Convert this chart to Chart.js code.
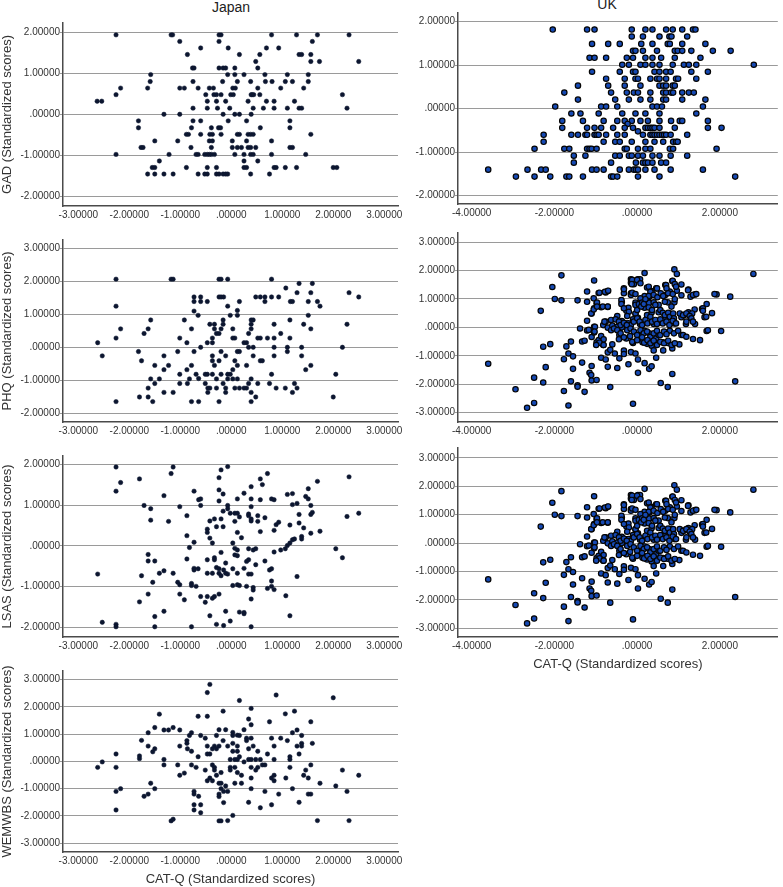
<!DOCTYPE html>
<html lang="en">
<head>
<meta charset="UTF-8" />
<title>CAT-Q scatter plots</title>
<script src="https://cdn.jsdelivr.net/npm/chart.js"></script>
<style>
    body {
        margin: 0;
        width: 783px;
        height: 887px;
        overflow: hidden;
        background: #ffffff;
        font-family: 'Liberation Sans', Arial, sans-serif;
        position: relative;
    }
    canvas { position: absolute; }
    .colTitle {
        position: absolute;
        font-size: 14px;
        color: #222;
        transform: translateX(-50%);
        white-space: nowrap;
    }
</style>
</head>
<body>

<div class="colTitle" style="left:231px; top:-1px;">Japan</div>
<div class="colTitle" style="left:607px; top:-4px;">UK</div>

<canvas id="jpGad" width="420" height="213" style="left:0; top:13px;"></canvas>
<canvas id="ukGad" width="383" height="221" style="left:400px; top:3px;"></canvas>
<canvas id="jpPhq" width="420" height="212" style="left:0; top:230px;"></canvas>
<canvas id="ukPhq" width="383" height="219" style="left:400px; top:223px;"></canvas>
<canvas id="jpLsas" width="420" height="211" style="left:0; top:446px;"></canvas>
<canvas id="ukLsas" width="383" height="234" style="left:400px; top:438px;"></canvas>
<canvas id="jpWemwbs" width="420" height="226" style="left:0; top:661px;"></canvas>

<script>
// [CAT-Q, outcome] pairs, standardized scores
const jpGad = [
    [-2.26,1.94],[-1.18,1.94],[-1.15,1.94],[-0.24,1.94],[-0.2,1.94],[0.79,1.94],[1.28,1.94],[1.69,1.94],[2.31,1.94],
    [-1.01,1.78],[-0.24,1.78],[1.59,1.78],
    [-0.6,1.62],[-0.06,1.62],[0.69,1.62],[0.93,1.62],
    [-0.86,1.46],[0.16,1.46],[0.56,1.46],[1.33,1.46],[1.38,1.46],[1.56,1.46],
    [0.48,1.29],[1.56,1.29],[1.73,1.29],[2.5,1.29],
    [-0.76,1.13],[-0.73,1.13],[-0.24,1.13],[-0.16,1.13],[-0.11,1.13],[0.07,1.13],[0.52,1.13],
    [-1.58,0.97],[-0.07,0.97],[0.07,0.97],[0.25,0.97],[0.66,0.97],[1.1,0.97],[1.51,0.97],
    [-1.59,0.8],[-0.75,0.8],[-0.17,0.8],[0.12,0.8],[0.38,0.8],[0.67,0.8],[0.8,0.8],[1.06,0.8],[1.2,0.8],[1.51,0.8],
    [-2.17,0.64],[-1.64,0.64],[-1.01,0.64],[-0.92,0.64],[-0.65,0.64],[-0.43,0.64],[-0.35,0.64],[0.03,0.64],[0.08,0.64],[0.52,0.64],[0.97,0.64],[1.42,0.64],
    [-2.26,0.48],[-0.5,0.48],[-0.34,0.48],[-0.29,0.48],[-0.2,0.48],[-0.01,0.48],[0.04,0.48],[0.39,0.48],[0.41,0.48],[0.44,0.48],[0.56,0.48],[2.18,0.48],
    [-2.63,0.32],[-2.54,0.32],[-0.47,0.32],[-0.29,0.32],[-0.11,0.32],[0.33,0.32],[0.69,0.32],[0.84,0.32],[1.24,0.32],
    [-0.75,0.15],[-0.47,0.15],[-0.27,0.15],[-0.03,0.15],[0.43,0.15],[0.63,0.15],[0.84,0.15],[1.1,0.15],[1.33,0.15],[1.38,0.15],[2.27,0.15],
    [-1.32,0],[-1.01,0],[-0.16,0],[0.07,0],[0.16,0],[0.39,0],
    [-1.82,-0.16],[-0.75,-0.16],[-0.6,-0.16],[-0.06,-0.16],[0.3,-0.16],[1.15,-0.16],
    [-1.82,-0.33],[-0.78,-0.33],[-0.39,-0.33],[-0.25,-0.33],[-0.21,-0.33],[0.57,-0.33],[1.15,-0.33],
    [-0.88,-0.49],[-0.84,-0.49],[-0.6,-0.49],[-0.42,-0.49],[-0.37,-0.49],[-0.2,-0.49],[0.12,-0.49],[0.16,-0.49],[0.33,-0.49],[0.38,-0.49],[0.43,-0.49],[1.56,-0.49],
    [-1.5,-0.65],[-1.05,-0.65],[-0.43,-0.65],[-0.37,-0.65],[0.02,-0.65],[0.3,-0.65],[0.79,-0.65],
    [-1.77,-0.81],[-1.73,-0.81],[-0.79,-0.81],[-0.39,-0.81],[0.02,-0.81],[0.12,-0.81],[0.2,-0.81],[0.33,-0.81],[0.38,-0.81],[0.48,-0.81],[1.15,-0.81],[1.2,-0.81],
    [-2.26,-0.98],[-1.22,-0.98],[-0.69,-0.98],[-0.65,-0.98],[-0.52,-0.98],[-0.47,-0.98],[-0.43,-0.98],[-0.39,-0.98],[-0.33,-0.98],[0.07,-0.98],[0.25,-0.98],[0.38,-0.98],[0.43,-0.98],[0.79,-0.98],[1.46,-0.98],
    [-1.41,-1.14],[0.25,-1.14],[0.52,-1.14],
    [-1.55,-1.3],[-1.5,-1.3],[-0.88,-1.3],[-0.47,-1.3],[-0.29,-1.3],[0.25,-1.3],[0.3,-1.3],[0.84,-1.3],[0.88,-1.3],[1.06,-1.3],[1.28,-1.3],[2.0,-1.3],[2.07,-1.3],
    [-1.64,-1.46],[-1.5,-1.46],[-1.32,-1.46],[-1.14,-1.46],[-0.65,-1.46],[-0.52,-1.46],[-0.47,-1.46],[-0.29,-1.46],[-0.24,-1.46],[-0.16,-1.46],[-0.11,-1.46],[-0.07,-1.46],[0.38,-1.46],[0.75,-1.46]
];

const ukGad = [
    [-2.04,1.82],[-1.21,1.82],[-1.03,1.82],[-0.13,1.82],[0.2,1.82],[0.37,1.82],[0.7,1.82],[0.86,1.82],[1.09,1.82],[1.35,1.82],[1.41,1.82],
    [-0.13,1.66],[0.14,1.66],[0.54,1.66],[0.78,1.66],[0.83,1.66],[1.21,1.66],
    [-1.09,1.49],[-0.7,1.49],[-0.42,1.49],[0.1,1.49],[0.37,1.49],[0.74,1.49],[0.79,1.49],[1.09,1.49],[1.65,1.49],
    [-0.1,1.33],[-0.04,1.33],[0.14,1.33],[0.48,1.33],[0.91,1.33],[0.98,1.33],[1.09,1.33],[1.31,1.33],[1.83,1.33],[2.26,1.33],
    [-1.15,1.17],[-1.03,1.17],[-0.75,1.17],[-0.25,1.17],[-0.1,1.17],[0.2,1.17],[0.37,1.17],[0.58,1.17],[0.91,1.17],[1.53,1.17],
    [-0.36,1.01],[-0.2,1.01],[0.08,1.01],[0.2,1.01],[0.37,1.01],[0.54,1.01],[0.86,1.01],[1.13,1.01],[1.25,1.01],[1.43,1.01],[2.82,1.01],
    [-1.09,0.85],[-0.42,0.85],[-0.1,0.85],[-0.04,0.85],[0.42,0.85],[0.54,0.85],[0.7,0.85],[0.81,0.85],[1.31,0.85],[1.71,0.85],
    [-0.75,0.69],[-0.3,0.69],[-0.04,0.69],[0.02,0.69],[0.32,0.69],[0.48,0.69],[0.54,0.69],[0.7,0.69],[0.94,0.69],[0.99,0.69],[1.43,0.69],
    [-1.43,0.53],[-0.7,0.53],[-0.3,0.53],[0.08,0.53],[0.54,0.53],[0.63,0.53],[0.7,0.53],[0.86,0.53],[0.91,0.53],
    [-1.76,0.37],[-0.63,0.37],[-0.25,0.37],[-0.08,0.37],[0.02,0.37],[0.32,0.37],[0.63,0.37],[0.7,0.37],[0.82,0.37],[0.87,0.37],[1.09,0.37],[1.25,0.37],[1.37,0.37],
    [-1.43,0.21],[-0.53,0.21],[-0.2,0.21],[0.08,0.21],[0.32,0.21],[0.63,0.21],[0.7,0.21],[1.09,0.21],[1.65,0.21],
    [-1.98,0.05],[-0.87,0.05],[-0.75,0.05],[-0.48,0.05],[0.37,0.05],[0.48,0.05],[0.6,0.05],[1.59,0.05],
    [-1.59,-0.11],[-1.37,-0.11],[-0.93,-0.11],[-0.36,-0.11],[-0.04,-0.11],[0.2,-0.11],[0.54,-0.11],[1.43,-0.11],
    [-1.81,-0.28],[-1.31,-0.28],[-0.81,-0.28],[-0.48,-0.28],[-0.3,-0.28],[-0.13,-0.28],[0.08,-0.28],[0.26,-0.28],[0.54,-0.28],[0.82,-0.28],[1.03,-0.28],[1.09,-0.28],[1.71,-0.28],[-0.23,-0.35],
    [-1.81,-0.44],[-1.21,-0.44],[-1.03,-0.44],[-0.87,-0.44],[-0.58,-0.44],[-0.3,-0.44],[-0.1,-0.44],[0.2,-0.44],[0.26,-0.44],[0.32,-0.44],[0.37,-0.44],[0.42,-0.44],[0.54,-0.44],[0.91,-0.44],[1.71,-0.44],[2.04,-0.44],[0.02,-0.52],
    [-2.26,-0.6],[-1.59,-0.6],[-1.43,-0.6],[-1.25,-0.6],[-1.21,-0.6],[-1.03,-0.6],[-0.98,-0.6],[-0.93,-0.6],[-0.75,-0.6],[-0.48,-0.6],[-0.3,-0.6],[0.14,-0.6],[0.32,-0.6],[0.37,-0.6],[0.42,-0.6],[0.48,-0.6],[0.54,-0.6],[0.6,-0.6],[0.65,-0.6],[0.7,-0.6],[0.81,-0.6],[1.21,-0.6],
    [-2.26,-0.76],[-0.81,-0.76],[-0.53,-0.76],[-0.42,-0.76],[-0.13,-0.76],[0.2,-0.76],[0.42,-0.76],[0.63,-0.76],[0.87,-0.76],[0.94,-0.76],[0.98,-0.76],
    [-2.48,-0.92],[-1.76,-0.92],[-1.64,-0.92],[-1.21,-0.92],[-1.15,-0.92],[-1.1,-0.92],[-0.98,-0.92],[-0.3,-0.92],[-0.25,-0.92],[0.02,-0.92],[0.2,-0.92],[0.32,-0.92],[0.79,-0.92],[0.87,-0.92],[1.92,-0.92],
    [-1.53,-1.08],[-1.25,-1.08],[-0.53,-1.08],[-0.42,-1.08],[-0.2,-1.08],[-0.13,-1.08],[0.02,-1.08],[0.14,-1.08],[0.37,-1.08],[0.54,-1.08],[0.81,-1.08],[1.21,-1.08],
    [-1.53,-1.24],[-0.63,-1.24],[-0.03,-1.24],[0.14,-1.24],[0.2,-1.24],[0.26,-1.24],[0.37,-1.24],[0.58,-1.24],[0.7,-1.24],
    [-3.6,-1.4],[-2.65,-1.4],[-2.32,-1.4],[-2.21,-1.4],[-1.09,-1.4],[-0.98,-1.4],[-0.81,-1.4],[-0.42,-1.4],[-0.2,-1.4],[-0.08,-1.4],[-0.03,-1.4],[0.02,-1.4],[0.2,-1.4],[0.42,-1.4],[0.81,-1.4],[1.59,-1.4],
    [-2.93,-1.56],[-2.48,-1.56],[-2.1,-1.56],[-1.71,-1.56],[-1.64,-1.56],[-1.31,-1.56],[-0.63,-1.56],[-0.58,-1.56],[-0.48,-1.56],[0.02,-1.56],[0.54,-1.56],[2.37,-1.56]
];

const jpPhq = [
    [-2.62,0.14],[-2.53,-0.26],[-2.26,2.07],[-2.26,1.25],[-2.26,0.28],[-2.26,-1.65],[-2.17,0.56],[-1.82,-0.13],[-1.8,-1.51],[-1.76,-0.41],
    [-1.71,0.42],[-1.63,0.56],[-1.63,-1.51],[-1.63,-1.24],[-1.58,0.83],[-1.58,-0.96],[-1.54,-1.65],[-1.5,-0.55],[-1.5,-1.1],[-1.41,-0.96],
    [-1.32,-0.26],[-1.32,-0.68],[-1.32,-1.37],[-1.23,-0.55],[-1.18,2.07],[-1.14,2.07],[-1.14,-1.37],[-1.05,-0.13],[-1.01,0.28],[-1.01,-0.82],
    [-1.01,-1.1],[-0.92,0.83],[-0.87,0.14],[-0.87,-0.68],[-0.86,-1.1],[-0.82,-0.96],[-0.78,0.56],[-0.78,-0.55],[-0.78,-1.65],[-0.73,1.1],
    [-0.73,1.53],[-0.73,1.39],[-0.73,-0.13],[-0.69,-0.82],[-0.65,0.97],[-0.64,-0.95],[-0.64,-1.65],[-0.6,1.53],[-0.6,1.39],[-0.6,0],
    [-0.51,-1.1],[-0.51,-0.82],[-0.47,1.39],[-0.47,0.14],[-0.47,-0.82],[-0.46,-1.24],[-0.46,-1.37],[-0.42,0.7],[-0.42,-1.24],[-0.37,0.14],
    [-0.37,0.28],[-0.37,-0.26],[-0.37,-0.41],[-0.37,-0.82],[-0.33,0.7],[-0.33,0.56],[-0.33,-0.55],[-0.29,0.42],[-0.29,-0.96],[-0.29,-1.24],
    [-0.24,2.07],[-0.2,2.07],[-0.24,1.53],[-0.2,1.53],[-0.15,1.53],[-0.24,-0.41],[-0.24,0.42],[-0.24,-1.65],[-0.2,0.56],[-0.2,-0.13],
    [-0.2,-0.82],[-0.16,0.83],[-0.16,0.7],[-0.16,-1.1],[-0.11,-0.26],[-0.11,-1.24],[-0.11,-1.37],[-0.07,2.07],[-0.07,1.25],[-0.07,-0.82],
    [-0.07,-0.96],[-0.02,0.97],[-0.02,-0.82],[0.03,0.56],[0.03,0.28],[0.03,-0.68],[0.03,-0.96],[0.07,0.28],[0.07,-0.41],[0.07,-1.24],
    [0.12,1.12],[0.12,0.97],[0.12,-0.13],[0.12,-0.55],[0.12,-0.96],[0.16,1.39],[0.16,-0.13],[0.16,-1.24],[0.25,0.14],[0.25,-1.24],
    [0.3,0.14],[0.3,-0.55],[0.3,-1.24],[0.34,0.42],[0.34,0],[0.34,-1.1],[0.39,0.83],[0.39,0.7],[0.39,0.56],[0.39,-0.96],
    [0.39,-1.37],[0.39,-1.65],[0.43,0.83],[0.43,0],[0.43,-0.26],[0.48,1.53],[0.48,-1.51],[0.52,0.28],[0.52,-1.1],[0.57,1.53],
    [0.57,0.28],[0.57,-0.41],[0.61,-0.41],[0.66,1.53],[0.66,1.39],[0.71,0.28],[0.75,-1.1],[0.79,2.07],[0.79,1.53],[0.79,-0.82],
    [0.84,0.7],[0.84,0.28],[0.84,0],[0.84,-0.26],[0.88,-1.24],[0.93,1.53],[0.97,0.42],[1.06,-1.24],[1.07,1.8],[1.1,0],
    [1.1,-0.13],[1.15,0.83],[1.15,0.28],[1.16,1.39],[1.2,1.39],[1.2,-1.37],[1.24,-1.1],[1.29,-1.24],[1.29,1.66],[1.33,1.94],
    [1.38,0],[1.38,-0.26],[1.42,0.7],[1.46,-0.68],[1.51,1.39],[1.51,0.97],[1.56,1.66],[1.56,0.56],[1.56,-0.55],[1.59,1.94],
    [1.69,1.39],[1.74,1.25],[2.0,-1.51],[2.05,-0.82],[2.18,0],[2.27,0.7],[2.31,1.66],[2.5,1.53]
];

const ukPhq = [
    [-3.6,-1.28],[-2.94,-2.18],[-2.66,-2.83],[-2.49,-2.66],[-2.49,-1.77],[-2.33,0.58],[-2.27,-0.68],[-2.27,-1.94],[-2.21,-1.4],[-2.1,-0.59],
    [-2.05,1.42],[-1.99,1.0],[-1.83,1.83],[-1.83,0.95],[-1.77,-1.12],[-1.77,-2.24],[-1.71,-0.67],[-1.66,-0.92],[-1.66,-2.75],[-1.6,-0.5],
    [-1.6,-1.9],[-1.55,-1.02],[-1.55,-1.46],[-1.44,0.95],[-1.44,-2.04],[-1.44,-2.09],[-1.38,-0.04],[-1.33,-0.5],[-1.33,-1.24],[-1.27,-0.47],
    [-1.27,-2.27],[-1.21,0.23],[-1.21,-0.11],[-1.21,1.26],[-1.21,0.9],[-1.17,-0.09],[-1.15,-1.6],[-1.11,-1.68],[-1.1,0.49],[-1.1,-0.34],
    [-1.1,-1.36],[-1.1,-1.87],[-1.04,1.65],[-1.04,0.67],[-1.04,0.02],[-1.04,-0.18],[-0.98,-0.53],[-0.98,-1.85],[-0.98,0.84],[-0.93,1.21],
    [-0.93,-0.45],[-0.87,0.71],[-0.87,-1.07],[-0.82,0.08],[-0.82,-0.62],[-0.76,1.23],[-0.76,0.2],[-0.76,-1.13],[-0.71,1.28],[-0.71,0.72],
    [-0.71,-0.01],[-0.71,-0.88],[-0.71,-1.39],[-0.65,-0.79],[-0.65,-2.1],[-0.6,0.06],[-0.6,-0.6],[-0.54,-0.92],[-0.48,0.4],[-0.48,0.02],
    [-0.48,-1.43],[-0.43,-0.11],[-0.43,-0.27],[-0.43,-1.09],[-0.37,0.89],[-0.37,0.22],[-0.37,0],[-0.32,1.37],[-0.32,1.2],[-0.32,-0.82],
    [-0.32,-0.94],[-0.26,0.58],[-0.26,0.13],[-0.26,-0.39],[-0.21,0.69],[-0.21,0.14],[-0.21,-1.3],[-0.15,1.69],[-0.15,1.57],[-0.15,1.2],
    [-0.15,1.14],[-0.15,-0.87],[-0.15,0.08],[-0.1,-2.69],[-0.1,-0.55],[-0.1,0.28],[-0.1,1.53],[-0.04,0.87],[-0.04,0.79],[-0.04,-0.92],
    [-0.04,0.48],[0.02,-1.6],[0.02,-1.13],[0.02,0.34],[0.02,1.69],[0.07,1.69],[0.07,0.75],[0.07,0.12],[0.07,-0.31],[0.13,0.83],
    [0.13,-0.52],[0.18,1.91],[0.18,1.1],[0.18,0.69],[0.18,-1.26],[0.18,-0.12],[0.24,1.4],[0.24,0.43],[0.24,-0.58],[0.29,1.07],
    [0.29,0.86],[0.29,-1.46],[0.29,-0.21],[0.35,1.28],[0.35,0.52],[0.35,-0.65],[0.35,-1.37],[0.4,0.88],[0.4,0.12],[0.4,-0.81],
    [0.46,1.37],[0.46,-0.39],[0.46,-1.07],[0.52,0.79],[0.52,0.53],[0.52,-0.27],[0.57,-1.96],[0.57,0.18],[0.63,-0.53],[0.63,-0.81],
    [0.68,1.49],[0.68,1.14],[0.68,0.27],[0.68,-0.18],[0.74,-2.1],[0.74,0.88],[0.74,-0.55],[0.79,1.26],[0.79,0.49],[0.79,-0.12],
    [0.85,-1.64],[0.85,1.63],[0.85,-0.74],[0.9,2.04],[0.9,0.88],[0.9,0.14],[0.96,1.88],[0.96,1.29],[1.02,-0.6],[1.07,1.51],
    [1.07,1.13],[1.07,0.36],[1.07,-0.27],[1.13,0.43],[1.18,0.12],[1.24,1.33],[1.24,0.53],[1.29,1.08],[1.35,-0.41],[1.4,1.16],
    [1.4,0.12],[1.52,-0.45],[1.57,0.65],[1.63,0.36],[1.68,0.82],[1.68,-0.13],[1.81,0.5],[1.92,1.16],[2.03,-0.13],[2.25,1.08],
    [2.37,-1.9],[2.81,1.88],
    // dense middle of the cloud
    [-0.12,1.67],[-0.08,1.52],[-0.13,1.52],[0,1.67],[0.08,1.55],[0.28,1.43],[0.48,1.37],[0.7,1.49],[0.71,1.37],[0.86,1.64],
    [0.91,1.52],[0.94,1.43],[1.23,1.31],[-0.32,1.34],[-0.12,1.22],[-0.04,1.17],[0.32,1.25],[0.28,1.1],[0.08,1.02],[-0.91,1.22],
    [-0.78,1.25],[-0.7,1.29],[-1.05,1.02],[-0.97,0.87],[-0.38,0.96],[-0.38,0.82],[0.04,0.82],[0.12,0.87],[0.2,0.99],[0.4,1.14],
    [0.49,1.06],[0.57,1.2],[0.63,1.1],[0.75,1.2],[0.86,1.17],[0.91,0.99],[0.67,0.9],[0.83,0.73],[1.35,1.14],[1.43,1.17],
    [1.87,1.17],[1.39,0.63],[1.33,0.49],[1.59,0.67],[1.59,0.58],[1.67,0.37],[-1.11,0.49],[-1.05,0.63],[-0.97,0.73],[-0.83,0.73],
    [-0.71,0.73],[-0.32,0.67],[-0.2,0.55],[-0.24,0.4],[-0.04,0.49],[0,0.61],[0.1,0.73],[0.16,0.82],[0.28,0.7],[0.36,0.61],
    [0.44,0.79],[0.56,0.61],[0.62,0.51],[0.67,0.43],[0.75,0.51],[0.79,0.37],[0.87,0.49],[0.89,0.32],[1.03,0.49],[1.11,0.43],
    [1.19,0.49],[1.27,0.4],[1.31,0.32],[-0.79,0.2],[-0.63,0.26],[-0.52,0.28],[-0.44,0.2],[-0.4,0.08],[-0.32,0.16],[-0.25,0.08],
    [-0.08,0.2],[0,0.32],[0.06,0.2],[0.12,0.08],[0.2,0.26],[0.25,0.14],[0.32,0.37],[0.36,0.2],[0.44,0.26],[0.48,0.12],
    [0.56,0.28],[0.62,0.14],[0.71,0.2],[0.78,0.08],[0.86,0.23],[0.94,0.14],[1.19,0.2],[1.35,0.2],[-1.02,0.02],[-1.03,-0.15],
    [-0.63,-0.1],[-0.56,-0.04],[-0.48,-0.1],[-0.4,-0.21],[-0.24,-0.1],[-0.16,-0.04],[-0.08,-0.15],[0,-0.27],[0.08,-0.1],[0.16,-0.21],
    [0.24,-0.15],[0.32,-0.33],[0.4,-0.21],[0.48,-0.12],[0.56,-0.27],[0.65,-0.15],[0.71,-0.24],[0.89,-0.21],[0.99,-0.12],[1.11,-0.27],
    [1.19,-0.33],[1.71,-0.1],[-0.87,-0.31],[-0.81,-0.42],[-0.91,-0.54],[-0.99,-0.62],[-0.81,-0.62],[-0.44,-0.42],[-0.32,-0.35],[-0.17,-0.31],
    [-0.12,-0.51],[0,-0.45],[0.12,-0.35],[0.17,-0.54],[0.25,-0.45],[0.32,-0.56],[0.4,-0.47],[0.48,-0.62],[0.56,-0.51],[0.65,-0.56],
    [0.75,-0.47],[0.83,-0.62],[0.91,-0.56]
];

// the UK LSAS panel in the source figure repeats the UK PHQ scatter point for point
const ukLsas = ukPhq;

const jpLsas = [
    [-2.62,-0.69],[-2.53,-1.87],[-2.26,1.93],[-2.26,1.34],[-2.26,-1.92],[-2.26,-1.98],[-2.17,1.55],[-1.8,1.64],[-1.8,-1.37],[-1.76,-0.73],
    [-1.71,0.99],[-1.63,-0.21],[-1.63,-0.37],[-1.63,-1.18],[-1.58,0.91],[-1.58,0.63],[-1.54,-0.89],[-1.5,-0.37],[-1.5,-1.73],[-1.5,-1.98],
    [-1.41,-0.67],[-1.32,1.23],[-1.32,-0.61],[-1.32,-1.6],[-1.23,0.6],[-1.18,1.77],[-1.14,1.93],[-1.14,-0.67],[-1.05,-0.89],[-1.01,0.96],
    [-1.01,-0.95],[-1.01,-1.18],[-0.92,-1.32],[-0.87,0.74],[-0.87,0.25],[-0.87,-0.32],[-0.82,-0.04],[-0.78,-0.92],[-0.78,-0.97],[-0.78,-1.98],
    [-0.73,1.34],[-0.73,0.09],[-0.73,-0.55],[-0.73,-0.59],[-0.69,-0.99],[-0.65,-0.56],[-0.64,1.13],[-0.6,1.15],[-0.6,0.99],[-0.6,-1.24],
    [-0.51,-1.38],[-0.47,0.41],[-0.47,0.33],[-0.47,-0.34],[-0.47,-1.24],[-0.47,-0.67],[-0.42,-1.71],[-0.42,0.61],[-0.42,0.19],[-0.37,0.07],
    [-0.37,-1.28],[-0.37,-0.67],[-0.33,0.66],[-0.33,-0.29],[-0.33,-0.34],[-0.33,-1.24],[-0.29,0.47],[-0.29,-0.53],[-0.29,-1.92],[-0.24,1.67],
    [-0.24,1.37],[-0.24,1.1],[-0.24,-1.18],[-0.24,-0.67],[-0.24,-0.56],[-0.2,0.66],[-0.2,1.86],[-0.2,-0.16],[-0.2,-0.73],[-0.16,1.27],
    [-0.16,0.85],[-0.16,0.47],[-0.15,-0.59],[-0.15,-1.95],[-0.11,-1.6],[-0.11,-0.42],[-0.11,-0.67],[-0.07,1.94],[-0.07,0.99],[-0.07,0.91],
    [-0.07,-0.69],[-0.02,0.8],[-0.02,-1.84],[0.03,0.07],[0.03,-0.56],[0.03,-0.97],[0.07,0.8],[0.07,0.6],[0.07,-0.06],[0.07,-0.22],
    [0.12,0.33],[0.12,0.8],[0.12,1.15],[0.12,-0.1],[0.12,-0.24],[0.12,-0.67],[0.12,-0.95],[0.16,0.71],[0.16,-0.97],[0.16,-1.62],
    [0.2,0.2],[0.25,1.29],[0.25,-0.55],[0.25,-1.63],[0.25,-1.66],[0.3,-0.99],[0.3,-0.38],[0.34,-0.34],[0.34,0.78],[0.34,0.74],
    [0.34,-0.07],[0.34,-0.69],[0.39,1.45],[0.39,1.15],[0.39,0.96],[0.39,0.66],[0.39,0.61],[0.39,-0.69],[0.39,-1.3],[0.39,-1.98],
    [0.43,-1.02],[0.43,-1.08],[0.43,-0.1],[0.48,-0.07],[0.48,-0.46],[0.52,0.74],[0.52,0.6],[0.57,1.64],[0.57,0.35],[0.57,1.13],
    [0.61,1.5],[0.66,0.69],[0.66,-0.37],[0.71,1.77],[0.71,-1.04],[0.75,-0.59],[0.79,1.15],[0.79,-0.56],[0.79,-0.86],[0.79,-0.99],
    [0.84,1.13],[0.84,0.38],[0.84,-0.15],[0.84,-1.07],[0.88,0.52],[0.93,0.58],[0.97,-0.1],[1.06,-0.07],[1.07,-1.22],[1.1,0.01],
    [1.1,1.26],[1.15,0.07],[1.15,0.51],[1.15,-1.71],[1.2,1.28],[1.2,1.01],[1.2,0.15],[1.24,0.17],[1.29,-0.75],[1.29,1.04],
    [1.33,0.56],[1.33,0.77],[1.38,0.23],[1.38,0.17],[1.42,0.44],[1.46,1.21],[1.51,1.15],[1.51,1.4],[1.56,0.99],[1.56,0.77],
    [1.56,0.31],[1.59,0.82],[1.69,1.58],[1.74,0.36],[2.05,-0.07],[2.18,-0.29],[2.27,0.72],[2.31,1.69],[2.5,0.8]
];

const jpWemwbs = [
    [-2.62,-0.22],[-2.53,-0.02],[-2.26,0.27],[-2.26,-0.22],[-2.26,-1.1],[-2.26,-1.78],[-2.17,-1.0],[-1.8,0.2],[-1.8,0.1],[-1.76,0.77],
    [-1.71,-1.28],[-1.63,1.05],[-1.63,0.56],[-1.63,-1.2],[-1.58,-0.8],[-1.54,0.35],[-1.5,0.46],[-1.5,1.24],[-1.5,-1.0],[-1.41,1.73],
    [-1.32,1.15],[-1.32,0.07],[-1.32,-0.13],[-1.23,1.15],[-1.18,-2.18],[-1.14,1.24],[-1.14,-2.12],[-1.05,-0.13],[-1.01,1.15],[-1.01,0.56],
    [-1.01,-0.51],[-0.92,-0.43],[-0.87,0.76],[-0.87,0.66],[-0.86,0.46],[-0.82,0.95],[-0.78,1.05],[-0.78,0.37],[-0.78,-0.13],[-0.73,-1.1],
    [-0.73,-1.2],[-0.73,-1.59],[-0.73,-1.78],[-0.69,-0.22],[-0.65,1.65],[-0.65,0.17],[-0.64,-1.28],[-0.6,0.95],[-0.6,-1.59],[-0.6,-1.88],
    [-0.51,0.85],[-0.51,-0.32],[-0.47,1.65],[-0.47,2.52],[-0.47,0.56],[-0.47,0.27],[-0.47,-0.71],[-0.42,2.82],[-0.42,0.27],[-0.42,-0.61],
    [-0.37,0.46],[-0.37,-0.13],[-0.37,-0.71],[-0.33,0.56],[-0.33,-0.22],[-0.33,-0.32],[-0.29,0.95],[-0.29,0.46],[-0.29,-0.51],[-0.24,1.16],
    [-0.24,0.56],[-0.24,-1.2],[-0.24,-1.29],[-0.24,-0.8],[-0.24,-2.18],[-0.2,-2.18],[-0.2,-0.41],[-0.2,-1.0],[-0.2,-0.8],[-0.16,1.84],
    [-0.16,0.76],[-0.15,-1.51],[-0.15,-1.1],[-0.11,1.16],[-0.11,-0.9],[-0.07,0.56],[-0.07,-2.17],[-0.07,-1.1],[-0.02,0.07],[-0.02,-0.22],
    [-0.02,-0.32],[0.03,1.06],[0.03,0.95],[0.03,0.66],[0.03,0.37],[0.03,-1.98],[0.07,0.07],[0.07,-0.22],[0.07,-0.8],[0.12,0.96],
    [0.12,0.56],[0.12,0.37],[0.12,0.07],[0.12,-0.41],[0.16,2.23],[0.16,0.95],[0.16,0.17],[0.2,-0.51],[0.2,-0.8],[0.25,1.16],
    [0.25,-0.02],[0.3,0.85],[0.3,0.76],[0.34,1.55],[0.34,0.46],[0.34,0.07],[0.34,-1.5],[0.39,1.94],[0.39,1.34],[0.39,0.85],
    [0.39,0.07],[0.39,-0.22],[0.39,-0.61],[0.39,-1.0],[0.43,0.56],[0.48,0.07],[0.48,-0.32],[0.52,0.37],[0.52,-0.22],[0.57,0.07],
    [0.57,-1.7],[0.61,-0.13],[0.66,-0.13],[0.66,-1.1],[0.71,0.27],[0.75,1.45],[0.79,0.85],[0.79,-1.59],[0.79,-0.61],[0.84,-0.51],
    [0.84,-0.71],[0.84,0.56],[0.84,0.07],[0.88,2.43],[0.93,-1.2],[0.97,0.85],[1.06,1.74],[1.07,-0.61],[1.1,0.76],[1.15,-0.22],
    [1.15,0.17],[1.15,0.07],[1.2,1.05],[1.2,-1.0],[1.24,1.84],[1.29,1.15],[1.29,0.56],[1.33,0.27],[1.33,-1.5],[1.38,0.95],
    [1.38,0.66],[1.38,0.56],[1.42,-0.51],[1.46,-0.32],[1.51,-0.61],[1.51,-1.2],[1.56,1.45],[1.56,-0.13],[1.56,-1.2],[1.59,0.66],
    [1.69,-2.17],[1.74,-0.8],[2.0,2.33],[2.05,-0.9],[2.18,-0.32],[2.27,-1.1],[2.31,-2.17],[2.5,-0.51]
];

const xTitle = 'CAT-Q (Standardized scores)';

// SPSS-style labels: 2.00000, .00000, -1.00000
function spssLabel(v) {
    let s = Math.abs(v).toFixed(5);
    if (s.startsWith('0')) s = s.slice(1);
    return (v < -1e-9 ? '-' : '') + s;
}

const panels = [
    {id: 'jpGad',    data: jpGad,    uk: false, y: [-2.24, 2.23], yTitle: 'GAD (Standardized scores)'},
    {id: 'ukGad',    data: ukGad,    uk: true,  y: [-2.19, 2.2]},
    {id: 'jpPhq',    data: jpPhq,    uk: false, y: [-2.27, 3.26], yTitle: 'PHQ (Standardized scores)'},
    {id: 'ukPhq',    data: ukPhq,    uk: true,  y: [-3.33, 3.32]},
    {id: 'jpLsas',   data: jpLsas,   uk: false, y: [-2.23, 2.2],  yTitle: 'LSAS (Standardized scores)'},
    {id: 'ukLsas',   data: ukLsas,   uk: true,  y: [-3.31, 3.35], xTitle: true},
    {id: 'jpWemwbs', data: jpWemwbs, uk: false, y: [-3.32, 3.31], yTitle: 'WEMWBS (Standardized scores)', xTitle: true}
];

const tickFont = {family: "'Liberation Sans', Arial, sans-serif", size: 10};
const titleFont = {family: "'Liberation Sans', Arial, sans-serif", size: 13};

panels.forEach(p => {
    const yAxisW = p.uk ? 58 : 63;
    const xAxisH = p.xTitle ? 35 : 20;
    new Chart(document.getElementById(p.id), {
        type: 'scatter',
        data: {
            datasets: [{
                data: p.data.map(d => ({x: d[0], y: d[1]})),
                pointRadius: p.uk ? 2.7 : 2.2,
                pointBackgroundColor: p.uk ? '#1549b4' : '#0c1630',
                pointBorderColor: p.uk ? '#050505' : '#0c1630',
                pointBorderWidth: p.uk ? 1.2 : 0.5
            }]
        },
        options: {
            responsive: false,
            animation: false,
            layout: {padding: {top: 10, right: p.uk ? 0 : 22, left: 0, bottom: 0}},
            plugins: {legend: {display: false}, tooltip: {enabled: false}},
            scales: {
                x: {
                    type: 'linear',
                    min: p.uk ? -4.33 : -3.3,
                    max: p.uk ? 3.4 : 3.27,
                    ticks: {
                        stepSize: p.uk ? 2 : 1,
                        includeBounds: false,
                        maxRotation: 0,
                        autoSkip: false,
                        padding: 3,
                        color: '#333',
                        font: tickFont,
                        callback: v => spssLabel(v)
                    },
                    grid: {display: false, drawTicks: false},
                    border: {display: true, color: '#4a4a4a', width: 1.5},
                    title: {
                        display: !!p.xTitle,
                        text: xTitle,
                        color: '#333',
                        font: titleFont,
                        padding: {top: 3, bottom: 0}
                    },
                    afterFit: s => { s.height = xAxisH; }
                },
                y: {
                    type: 'linear',
                    min: p.y[0],
                    max: p.y[1],
                    ticks: {
                        stepSize: 1,
                        includeBounds: false,
                        padding: 0,
                        color: '#333',
                        font: tickFont,
                        callback: v => spssLabel(v)
                    },
                    grid: {color: '#9a9a9a', lineWidth: 1, drawTicks: true, tickLength: 3},
                    border: {display: true, color: '#4a4a4a', width: 1.5},
                    title: {
                        display: !!p.yTitle,
                        text: p.yTitle || '',
                        color: '#333',
                        font: titleFont,
                        padding: 0
                    },
                    afterFit: s => { s.width = yAxisW; }
                }
            }
        }
    });
});
</script>
</body>
</html>
